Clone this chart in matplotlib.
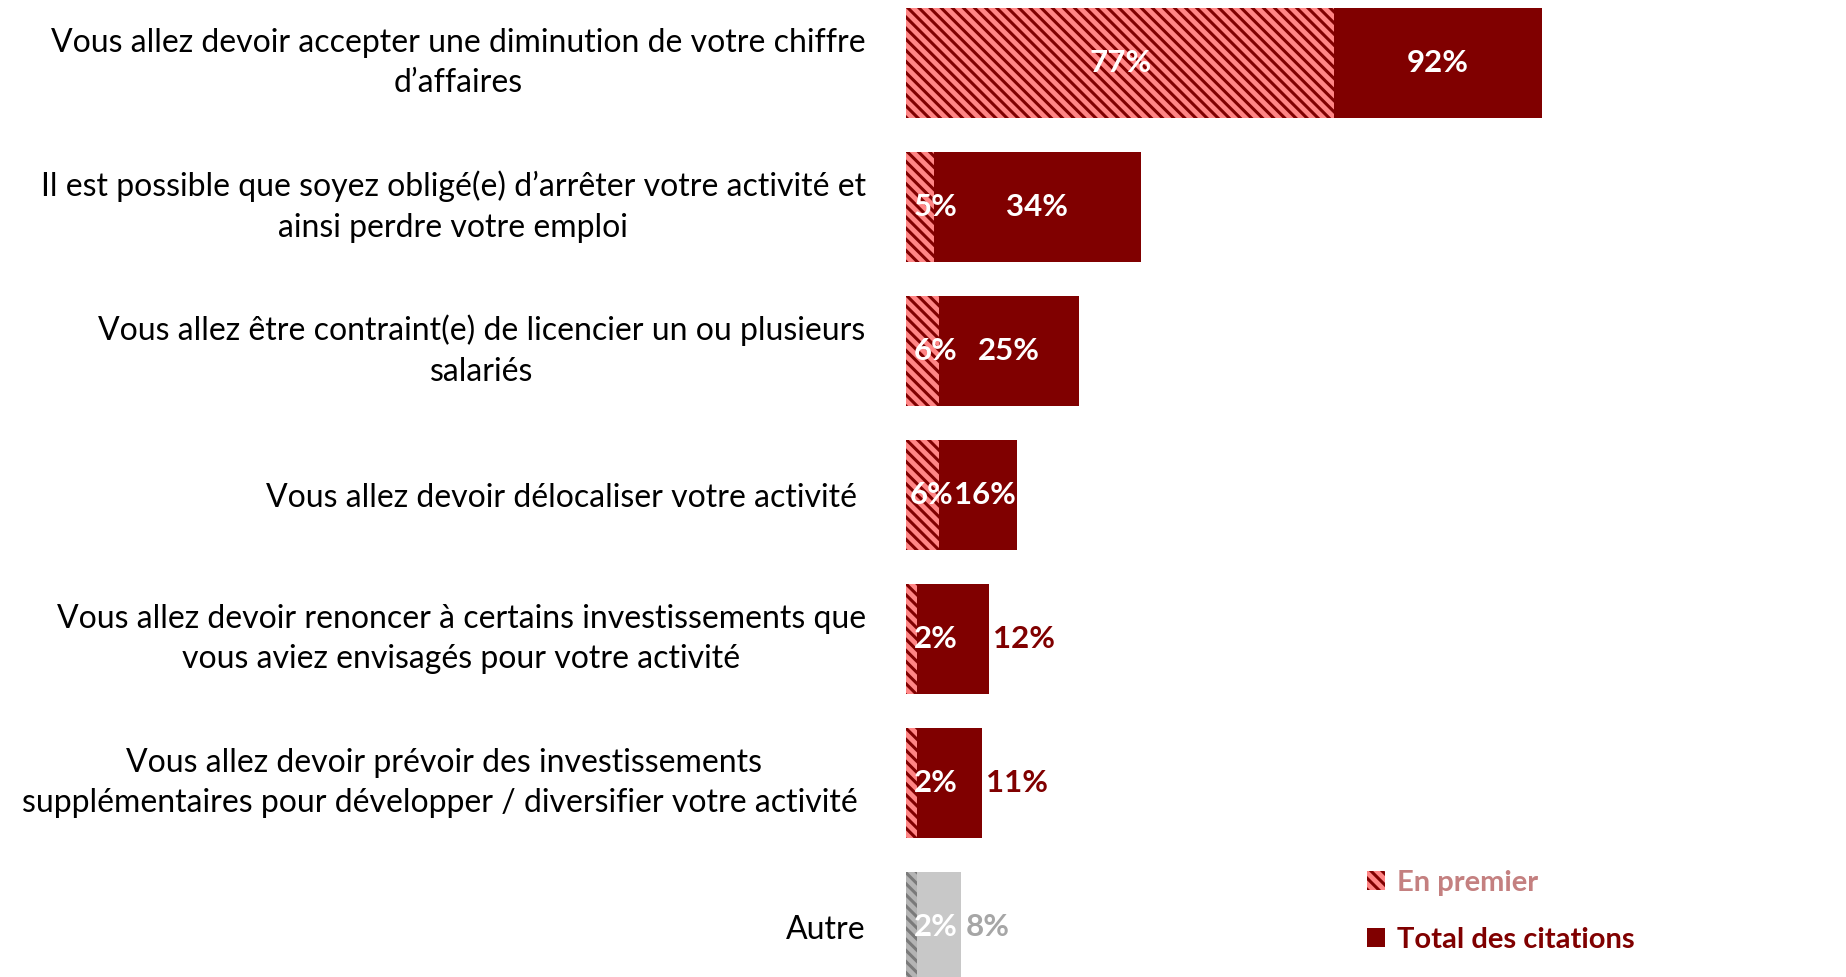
import matplotlib
matplotlib.use("Agg")
import matplotlib.pyplot as plt
from matplotlib.patches import Patch
import numpy as np

# data
categories = [
    "Vous allez devoir accepter une diminution de votre chiffre\nd\u2019affaires",
    "Il est possible que soyez oblig\u00e9(e) d\u2019arr\u00eater votre activit\u00e9 et\nainsi perdre votre emploi",
    "Vous allez \u00eatre contraint(e) de licencier un ou plusieurs\nsalari\u00e9s",
    "Vous allez devoir d\u00e9localiser votre activit\u00e9 ",
    "Vous allez devoir renoncer \u00e0 certains investissements que\nvous aviez envisag\u00e9s pour votre activit\u00e9",
    "Vous allez devoir pr\u00e9voir des investissements\nsuppl\u00e9mentaires pour d\u00e9velopper / diversifier votre activit\u00e9 ",
    "Autre",
]
en_premier = [77, 5, 6, 6, 2, 2, 2]
total = [92, 34, 25, 16, 12, 11, 8]

# colours (last row "Autre" is grey)
total_colors = ["#800000"] * 6 + ["#c8c8c8"]
hatch_face = ["#ff8585"] * 6 + ["#b4b4b4"]
hatch_line = ["#800000"] * 6 + ["#7a7a7a"]
outside_colors = ["#800000"] * 6 + ["#a6a6a6"]

plt.rcParams["font.family"] = ["Lato", "DejaVu Sans"]
plt.rcParams["hatch.linewidth"] = 2.2

W, H = 1846, 977
fig = plt.figure(figsize=(W / 100, H / 100), dpi=100)
x0 = 906 / W
ax = fig.add_axes([x0, 0, 1 - x0, 1])
ax2 = ax.twiny()  # secondary axis for "En premier", like the original

y = np.arange(len(categories))
bar_h = 0.764

ax.barh(y, total, height=bar_h, color=total_colors, linewidth=0)
ax2.barh(y, en_premier, height=bar_h, color=hatch_face, edgecolor=hatch_line,
         linewidth=0, hatch="\\\\\\")

ax.set_xlim(0, 136)
ax2.set_xlim(0, 169.0)
ax.set_ylim(6.347, -0.4375)

for a in (ax, ax2):
    for s in a.spines.values():
        s.set_visible(False)
    a.set_xticks([])
ax.set_yticks(y, categories, fontsize=23, color="black")
ax.tick_params(axis="y", length=0, pad=29)
for lbl in ax.get_yticklabels():
    lbl.set_multialignment("center")
    lbl.set_linespacing(1.45)
    if "\n" in lbl.get_text():
        lbl.set_verticalalignment("center")

fig.canvas.draw()
renderer = fig.canvas.get_renderer()
to_px = lambda a, v: a.transData.transform((v, 0))[0]
px_to_ax2 = lambda px: ax2.transData.inverted().transform((px, 0))[0]

val_font = dict(fontsize=22.5, fontweight="bold")
for i in range(len(categories)):
    h_end = to_px(ax2, en_premier[i])
    t_end = to_px(ax, total[i])
    # "En premier" label
    if en_premier[i] >= 20:
        first = ax2.text(en_premier[i] / 2, y[i], f"{en_premier[i]}%", ha="center",
                         va="center", color="white", **val_font)
    else:
        first = ax2.text(px_to_ax2(to_px(ax2, 0) + 8), y[i], f"{en_premier[i]}%",
                         ha="left", va="center", color="white", **val_font)
    fb = first.get_window_extent(renderer)
    # total label: inside for the bigger bars, outside otherwise
    if total[i] > 15:
        t = ax2.text(px_to_ax2((h_end + t_end) / 2), y[i], f"{total[i]}%", ha="center",
                     va="center", color="white", **val_font)
        bb = t.get_window_extent(renderer)
        if bb.x0 < fb.x1:
            # keep it inside the bar, push the first label left if needed
            right = min(fb.x1 + bb.width, t_end - 1)
            t.set_x(px_to_ax2(right - bb.width / 2))
            if fb.x1 > right - bb.width:
                first.set_x(px_to_ax2(max(to_px(ax2, 0) + 1, right - bb.width - fb.width)))
    else:
        ax2.annotate(f"{total[i]}%", (px_to_ax2(t_end), y[i]), xytext=(3, 0),
                     textcoords="offset points", ha="left", va="center",
                     color=outside_colors[i], **val_font)

handles = [
    Patch(facecolor="#ff8585", edgecolor="#800000", linewidth=0, hatch="\\\\\\"),
    Patch(facecolor="#800000", linewidth=0),
]
leg = fig.legend(handles, ["En premier", "Total des citations"], loc="upper left",
                 bbox_to_anchor=(1367 / W, 1 - 870 / H), frameon=False,
                 borderpad=0, borderaxespad=0,
                 handlelength=0.62, handleheight=0.62, handletextpad=0.4,
                 labelspacing=1.05, prop={"size": 21, "weight": "bold"},
                 labelcolor=["#c48080", "#800000"])

fig.savefig("out.png", dpi=100)
